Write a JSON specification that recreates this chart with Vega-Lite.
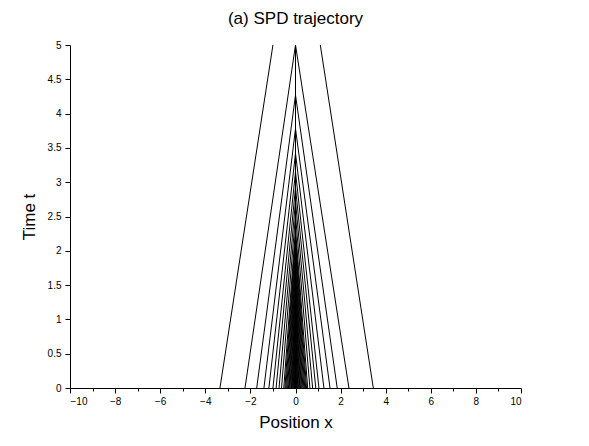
{
  "$schema": "https://vega.github.io/schema/vega-lite/v6.json",
  "width": 451,
  "height": 343,
  "autosize": {"type": "none"},
  "padding": {"left": 70, "top": 45, "right": 68, "bottom": 58},
  "background": "white",
  "title": {"text": "(a) SPD trajectory", "font": "Liberation Sans", "fontSize": 17, "fontWeight": "normal", "color": "black", "anchor": "middle", "offset": 12},
  "config": {"view": {"stroke": null}},
  "data": {"values": [
    {"id": "L1", "x": -3.35, "t": 0}, {"id": "L1", "x": -1.0, "t": 5},
    {"id": "L2", "x": -2.24, "t": 0}, {"id": "L2", "x": 0, "t": 5.0},
    {"id": "L3", "x": -1.72, "t": 0}, {"id": "L3", "x": 0, "t": 4.27},
    {"id": "L4", "x": -1.40, "t": 0}, {"id": "L4", "x": 0, "t": 3.78},
    {"id": "L5", "x": -1.18, "t": 0}, {"id": "L5", "x": 0, "t": 3.42},
    {"id": "L6", "x": -1.00, "t": 0}, {"id": "L6", "x": 0, "t": 3.15},
    {"id": "L7", "x": -0.86, "t": 0}, {"id": "L7", "x": 0, "t": 2.92},
    {"id": "L8", "x": -0.73, "t": 0}, {"id": "L8", "x": 0, "t": 2.72},
    {"id": "L9", "x": -0.62, "t": 0}, {"id": "L9", "x": 0, "t": 2.52},
    {"id": "L10", "x": -0.52, "t": 0}, {"id": "L10", "x": 0, "t": 2.32},
    {"id": "L10b", "x": -0.47, "t": 0}, {"id": "L10b", "x": 0, "t": 2.22},
    {"id": "L11", "x": -0.43, "t": 0}, {"id": "L11", "x": 0, "t": 2.12},
    {"id": "L11b", "x": -0.39, "t": 0}, {"id": "L11b", "x": 0, "t": 2.02},
    {"id": "L12", "x": -0.35, "t": 0}, {"id": "L12", "x": 0, "t": 1.92},
    {"id": "L12b", "x": -0.31, "t": 0}, {"id": "L12b", "x": 0, "t": 1.82},
    {"id": "L13", "x": -0.28, "t": 0}, {"id": "L13", "x": 0, "t": 1.72},
    {"id": "L13b", "x": -0.245, "t": 0}, {"id": "L13b", "x": 0, "t": 1.61},
    {"id": "L14", "x": -0.21, "t": 0}, {"id": "L14", "x": 0, "t": 1.5},
    {"id": "L14b", "x": -0.18, "t": 0}, {"id": "L14b", "x": 0, "t": 1.39},
    {"id": "L15", "x": -0.15, "t": 0}, {"id": "L15", "x": 0, "t": 1.28},
    {"id": "L15b", "x": -0.125, "t": 0}, {"id": "L15b", "x": 0, "t": 1.17},
    {"id": "L16", "x": -0.10, "t": 0}, {"id": "L16", "x": 0, "t": 1.05},
    {"id": "L16b", "x": -0.075, "t": 0}, {"id": "L16b", "x": 0, "t": 0.9},
    {"id": "L17", "x": -0.05, "t": 0}, {"id": "L17", "x": 0, "t": 0.75},
    {"id": "L17b", "x": -0.025, "t": 0}, {"id": "L17b", "x": 0, "t": 0.55},
    {"id": "R1", "x": 3.45, "t": 0}, {"id": "R1", "x": 1.1, "t": 5},
    {"id": "R2", "x": 2.37, "t": 0}, {"id": "R2", "x": 0, "t": 5.0},
    {"id": "R3", "x": 1.85, "t": 0}, {"id": "R3", "x": 0, "t": 4.27},
    {"id": "R4", "x": 1.53, "t": 0}, {"id": "R4", "x": 0, "t": 3.78},
    {"id": "R5", "x": 1.26, "t": 0}, {"id": "R5", "x": 0, "t": 3.42},
    {"id": "R6", "x": 1.04, "t": 0}, {"id": "R6", "x": 0, "t": 3.15},
    {"id": "R7", "x": 0.90, "t": 0}, {"id": "R7", "x": 0, "t": 2.92},
    {"id": "R8", "x": 0.76, "t": 0}, {"id": "R8", "x": 0, "t": 2.72},
    {"id": "R9", "x": 0.64, "t": 0}, {"id": "R9", "x": 0, "t": 2.52},
    {"id": "R10", "x": 0.54, "t": 0}, {"id": "R10", "x": 0, "t": 2.32},
    {"id": "R10b", "x": 0.49, "t": 0}, {"id": "R10b", "x": 0, "t": 2.22},
    {"id": "R11", "x": 0.45, "t": 0}, {"id": "R11", "x": 0, "t": 2.12},
    {"id": "R11b", "x": 0.41, "t": 0}, {"id": "R11b", "x": 0, "t": 2.02},
    {"id": "R12", "x": 0.37, "t": 0}, {"id": "R12", "x": 0, "t": 1.92},
    {"id": "R12b", "x": 0.33, "t": 0}, {"id": "R12b", "x": 0, "t": 1.82},
    {"id": "R13", "x": 0.29, "t": 0}, {"id": "R13", "x": 0, "t": 1.72},
    {"id": "R13b", "x": 0.255, "t": 0}, {"id": "R13b", "x": 0, "t": 1.61},
    {"id": "R14", "x": 0.22, "t": 0}, {"id": "R14", "x": 0, "t": 1.5},
    {"id": "R14b", "x": 0.19, "t": 0}, {"id": "R14b", "x": 0, "t": 1.39},
    {"id": "R15", "x": 0.16, "t": 0}, {"id": "R15", "x": 0, "t": 1.28},
    {"id": "R15b", "x": 0.13, "t": 0}, {"id": "R15b", "x": 0, "t": 1.17},
    {"id": "R16", "x": 0.10, "t": 0}, {"id": "R16", "x": 0, "t": 1.05},
    {"id": "R16b", "x": 0.075, "t": 0}, {"id": "R16b", "x": 0, "t": 0.9},
    {"id": "R17", "x": 0.05, "t": 0}, {"id": "R17", "x": 0, "t": 0.75},
    {"id": "R17b", "x": 0.025, "t": 0}, {"id": "R17b", "x": 0, "t": 0.55},
    {"id": "C", "x": 0, "t": 0}, {"id": "C", "x": 0, "t": 5}
  ]},
  "layer": [
    {
      "mark": {"type": "line", "color": "black", "strokeWidth": 1, "clip": true},
      "encoding": {
        "x": {"field": "x", "type": "quantitative", "scale": {"domain": [-10, 10], "nice": false, "zero": false},
          "axis": {"orient": "bottom", "values": [-10, -8, -6, -4, -2, 0, 2, 4, 6, 8, 10], "format": "d", "labelOverlap": false, "title": "Position x", "titleFont": "Liberation Sans", "titleFontSize": 17, "titleFontWeight": "normal", "titleColor": "black", "titlePadding": 8,
            "labelFont": "Liberation Sans", "labelFontSize": 10, "labelColor": "black", "labelPadding": 3, "tickSize": 5, "tickColor": "black", "domainColor": "black", "grid": false}},
        "y": {"field": "t", "type": "quantitative", "scale": {"domain": [0, 5], "nice": false},
          "axis": {"values": [0, 0.5, 1, 1.5, 2, 2.5, 3, 3.5, 4, 4.5, 5], "format": "~r", "labelOverlap": false, "title": "Time t", "titleFont": "Liberation Sans", "titleFontSize": 17, "titleFontWeight": "normal", "titleColor": "black", "titlePadding": 9,
            "labelFont": "Liberation Sans", "labelFontSize": 10, "labelColor": "black", "labelPadding": 4, "tickSize": 5, "tickColor": "black", "domainColor": "black", "grid": false}},
        "detail": {"field": "id"},
        "order": {"field": "t"}
      }
    },
    {
      "mark": {"type": "point", "opacity": 0},
      "encoding": {
        "x": {"field": "x", "type": "quantitative",
          "axis": {"orient": "bottom", "values": [-9, -7, -5, -3, -1, 1, 3, 5, 7, 9], "title": null, "labels": false, "domain": false, "tickSize": 3, "tickColor": "black", "grid": false}}
      }
    }
  ],
  "resolve": {"axis": {"x": "independent"}}
}
